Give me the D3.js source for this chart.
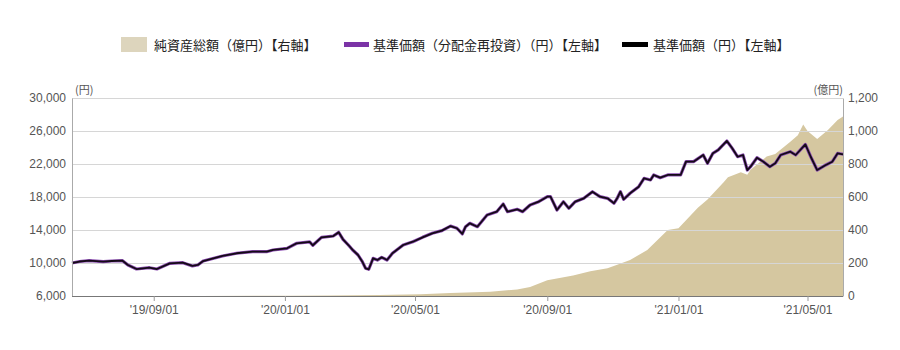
<!DOCTYPE html>
<html>
<head>
<meta charset="utf-8">
<script src="https://cdn.jsdelivr.net/npm/d3@7"></script>
<style>
  html, body { margin: 0; padding: 0; background: #fff; }
  svg { display: block; }
  text { font-family: "Liberation Sans", Arial, "Noto Sans CJK JP", sans-serif; }
  .jp { font-family: "Noto Sans CJK JP", "Liberation Sans", sans-serif; }
</style>
</head>
<body>
<svg id="chart" width="900" height="350"></svg>
<script>
// ---- data ----
const navDates = ["2019-06-17","2019-06-24","2019-07-03","2019-07-16","2019-07-24","2019-08-03","2019-08-08","2019-08-16","2019-08-28","2019-09-04","2019-09-16","2019-09-28","2019-10-07","2019-10-12","2019-10-17","2019-11-04","2019-11-17","2019-12-02","2019-12-15","2019-12-21","2020-01-03","2020-01-12","2020-01-24","2020-01-27","2020-02-04","2020-02-15","2020-02-20","2020-02-24","2020-02-29","2020-03-04","2020-03-09","2020-03-13","2020-03-16","2020-03-19","2020-03-23","2020-03-27","2020-03-31","2020-04-05","2020-04-10","2020-04-20","2020-04-29","2020-05-08","2020-05-17","2020-05-26","2020-06-03","2020-06-09","2020-06-14","2020-06-17","2020-06-21","2020-06-28","2020-07-07","2020-07-16","2020-07-22","2020-07-26","2020-08-04","2020-08-09","2020-08-16","2020-08-24","2020-09-01","2020-09-04","2020-09-10","2020-09-16","2020-09-21","2020-09-27","2020-10-05","2020-10-13","2020-10-20","2020-10-27","2020-11-02","2020-11-05","2020-11-08","2020-11-11","2020-11-17","2020-11-25","2020-11-30","2020-12-06","2020-12-09","2020-12-15","2020-12-22","2021-01-03","2021-01-08","2021-01-15","2021-01-24","2021-01-28","2021-02-02","2021-02-07","2021-02-15","2021-02-20","2021-02-25","2021-03-02","2021-03-06","2021-03-09","2021-03-15","2021-03-21","2021-03-27","2021-04-01","2021-04-06","2021-04-15","2021-04-20","2021-04-29","2021-05-04","2021-05-10","2021-05-18","2021-05-24","2021-05-29","2021-06-03"];
const navValues = [10000,10180,10280,10160,10240,10280,9760,9270,9430,9270,9960,10040,9640,9760,10240,10850,11180,11370,11370,11580,11780,12390,12550,12150,13110,13270,13720,12870,12180,11580,10970,10160,9360,9240,10570,10360,10690,10360,11180,12180,12580,13110,13600,13920,14480,14210,13520,14400,14810,14400,15820,16220,17150,16220,16510,16220,17030,17430,18040,18040,16420,17430,16630,17430,17840,18640,18040,17840,17240,17840,18640,17720,18450,19250,20270,20060,20670,20340,20670,20670,22280,22280,23090,22090,23300,23700,24790,23900,22880,23090,21270,21670,22760,22280,21670,22090,23090,23490,23090,24370,22880,21270,21880,22280,23300,23180];
// 分配金再投資 = 基準価額 (no distributions)
const reinvestValues = navValues.slice();

const assetDates = ["2019-06-17","2019-10-14","2020-01-06","2020-02-12","2020-03-29","2020-05-06","2020-06-03","2020-07-10","2020-08-04","2020-08-16","2020-09-01","2020-09-25","2020-10-11","2020-10-27","2020-11-05","2020-11-17","2020-12-03","2020-12-22","2021-01-01","2021-01-19","2021-01-28","2021-02-12","2021-02-16","2021-02-28","2021-03-06","2021-03-09","2021-03-24","2021-04-01","2021-04-15","2021-04-22","2021-04-27","2021-05-01","2021-05-10","2021-05-20","2021-05-29","2021-06-03"];
const assetValues = [0,0.5,1,3,6,10,18,26,40,55,95,125,150,168,190,218,279,400,410,535,585,690,720,750,735,765,845,860,935,975,1040,1000,952,1006,1067,1088];

const leftTicks = [6000,10000,14000,18000,22000,26000,30000];
const rightTicks = [0,200,400,600,800,1000,1200];
const xTickDates = ["2019-09-01","2020-01-01","2020-05-01","2020-09-01","2021-01-01","2021-05-01"];
const xTickLabels = ["'19/09/01","'20/01/01","'20/05/01","'20/09/01","'21/01/01","'21/05/01"];
const legendLabels = ["純資産総額（億円）【右軸】","基準価額（分配金再投資）（円）【左軸】","基準価額（円）【左軸】"];

// ---- chart ----
const parse = d3.timeParse("%Y-%m-%d");
const svg = d3.select("#chart");
const L = 72, R = 843, T = 98, B = 296;

const x = d3.scaleTime().domain([parse("2019-06-17"), parse("2021-06-03")]).range([L, R]);
const yL = d3.scaleLinear().domain([6000, 30000]).range([B, T]);
const yR = d3.scaleLinear().domain([0, 1200]).range([B, T]);

const nav = navDates.map((d, i) => ({ date: parse(d), v: navValues[i] }));
const reinv = navDates.map((d, i) => ({ date: parse(d), v: reinvestValues[i] }));
const assets = assetDates.map((d, i) => ({ date: parse(d), v: assetValues[i] }));

// area
svg.append("path")
  .datum(assets)
  .attr("fill", "#d5c7a0")
  .attr("d", d3.area().x(d => x(d.date)).y0(B).y1(d => yR(d.v)));

// gridlines
svg.append("g").selectAll("line").data(leftTicks.filter(t => t !== 6000)).join("line")
  .attr("x1", L).attr("x2", R)
  .attr("y1", d => yL(d) + 0.5).attr("y2", d => yL(d) + 0.5)
  .attr("stroke", "#d6d6d6").attr("stroke-width", 1);

// lines
const line = d3.line().x(d => x(d.date)).y(d => yL(d.v));
svg.append("path").datum(reinv)
  .attr("fill", "none").attr("stroke", "#8a4cb0").attr("stroke-width", 3.2)
  .attr("stroke-linejoin", "round").attr("d", line);
svg.append("path").datum(nav)
  .attr("fill", "none").attr("stroke", "#140a16").attr("stroke-width", 1.8)
  .attr("stroke-linejoin", "round").attr("d", line);

// axes
const leftAxis = d3.axisLeft(yL).tickValues(leftTicks).tickSize(0).tickPadding(6).tickFormat(d3.format(","));
const gl = svg.append("g").attr("transform", `translate(${L},0)`).call(leftAxis);
gl.select(".domain").attr("stroke", "#aaa");
gl.selectAll("text").attr("fill", "#555").attr("font-size", 12).style("font-family", "'Liberation Sans', Arial, sans-serif");

const rightAxis = d3.axisRight(yR).tickValues(rightTicks).tickSize(0).tickPadding(5).tickFormat(d3.format(","));
const gr = svg.append("g").attr("transform", `translate(${R},0)`).call(rightAxis);
gr.select(".domain").attr("stroke", "#aaa");
gr.selectAll("text").attr("fill", "#555").attr("font-size", 12).style("font-family", "'Liberation Sans', Arial, sans-serif");

const bottomAxis = d3.axisBottom(x).tickValues(xTickDates.map(parse)).tickSize(5).tickPadding(4)
  .tickFormat((d, i) => xTickLabels[i]);
const gb = svg.append("g").attr("transform", `translate(0,${B})`).call(bottomAxis);
gb.select(".domain").attr("stroke", "#777").attr("d", `M${L},0.5H${R}`);
gb.selectAll(".tick line").attr("stroke", "#999");
gb.selectAll("text").attr("fill", "#555").attr("font-size", 12).style("font-family", "'Liberation Sans', Arial, sans-serif");

// unit labels
svg.append("text").attr("class", "jp").attr("x", 75).attr("y", 94).attr("font-size", 11).attr("fill", "#555").text("(円)");
svg.append("text").attr("class", "jp").attr("x", 843).attr("y", 94).attr("text-anchor", "end").attr("font-size", 11).attr("fill", "#555").text("(億円)");

// legend
const lg = svg.append("g");
lg.append("rect").attr("x", 121).attr("y", 37).attr("width", 26).attr("height", 15).attr("fill", "#ddd5bd");
lg.append("text").attr("class", "jp").attr("x", 154).attr("y", 49.5).attr("font-size", 13).attr("fill", "#222").text(legendLabels[0]);
lg.append("rect").attr("x", 344).attr("y", 42).attr("width", 25).attr("height", 5).attr("fill", "#7b33a6");
lg.append("text").attr("class", "jp").attr("x", 373).attr("y", 49.5).attr("font-size", 13).attr("fill", "#222").text(legendLabels[1]);
lg.append("rect").attr("x", 622).attr("y", 42).attr("width", 26).attr("height", 5).attr("fill", "#000");
lg.append("text").attr("class", "jp").attr("x", 653).attr("y", 49.5).attr("font-size", 13).attr("fill", "#222").text(legendLabels[2]);
</script>
</body>
</html>
